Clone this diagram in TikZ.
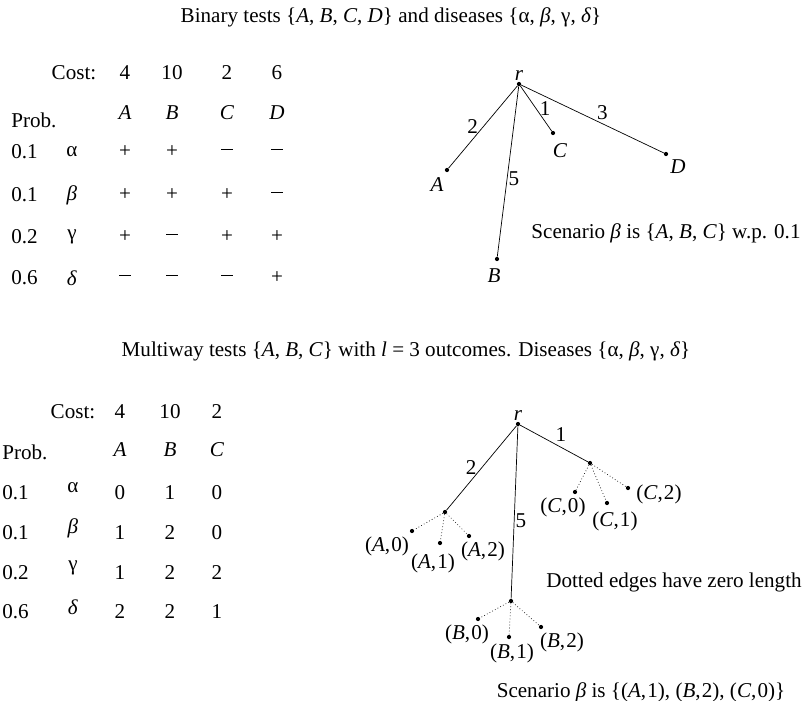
\documentclass[tikz,border=0pt]{standalone}
\usepackage{fontspec}
\setmainfont{Liberation Serif}
\usetikzlibrary{positioning}
\newcommand{\va}[1]{\textit{#1}}
\newcommand{\oc}[2]{(\va{#1},\kern1pt#2)}
\newcommand{\mns}{\rule[0.25em]{0.56em}{0.55pt}}
\begin{document}
\begin{tikzpicture}[
  x=0.03cm, y=-0.03cm,
  every node/.style={font=\fontsize{18}{20}\selectfont, inner sep=1pt},
  dot/.style={circle, fill, inner sep=0pt, minimum size=3.6pt},
  edge/.style={line width=0.6pt},
  zero/.style={dotted, line width=0.6pt},
  leaf/.style={font=\fontsize{18}{20}\selectfont}
]
  \useasboundingbox (0,0) rectangle (805,701);

  % Binary tests
  \node (title1) at (391,17) {Binary tests \{\va{A}, \va{B}, \va{C}, \va{D}\} and diseases \{α, \va{β}, γ, \va{δ}\}};

  \node (cost1) at (74,73) {Cost:};
  \foreach \c/\x [count=\j] in {4/125,10/172,2/227,6/277}
    \node (cost1-\j) at (\x,73) {\c};
  \node[anchor=west] (prob1) at (10,120) {Prob.};
  \foreach \t/\x in {A/125,B/172,C/227,D/277}
    \node (head1-\t) at (\x,113) {\va{\t}};
  \foreach \p/\g/\a/\b/\c/\d/\y [count=\i] in {
      0.1/α/+/+/\mns/\mns/152,
      0.1/\va{β}/+/+/+/\mns/195,
      0.2/γ/+/\mns/+/+/237,
      0.6/\va{δ}/\mns/\mns/\mns/+/278} {
    \node[anchor=west] (pr1-\i) at (10,\y) {\p};
    \node (dis1-\i) at (72,\y) {\g};
    \node (res1-\i-1) at (125,\y) {\a};
    \node (res1-\i-2) at (172,\y) {\b};
    \node (res1-\i-3) at (227,\y) {\c};
    \node (res1-\i-4) at (277,\y) {\d};
  }

  \node[dot] (r1) at (519,84) {};
  \node[dot] (A1) at (447,170) {};
  \node[dot] (B1) at (497,259) {};
  \node[dot] (C1) at (553,133) {};
  \node[dot] (D1) at (666,154) {};
  \node[above=0pt of r1] (r1lab) {\va{r}};
  \node (A1lab) at (437,185) {\va{A}};
  \node (B1lab) at (494,276) {\va{B}};
  \node (C1lab) at (560,151) {\va{C}};
  \node (D1lab) at (678,167) {\va{D}};

  \draw[edge] (r1) -- node[left=3pt] (w1A) {2} (A1);
  \draw[edge] (r1) -- node[pos=0.54, right] (w1B) {5} (B1);
  \draw[edge] (r1) -- node[right=2pt] (w1C) {1} (C1);
  \draw[edge] (r1) -- node[pos=0.57, above=2pt] (w1D) {3} (D1);

  \node (scen1) at (666,233) {Scenario \va{β} is \{\va{A}, \va{B}, \va{C}\} w.p. 0.1};

  % Multiway tests
  \node (title2) at (406,351) {Multiway tests \{\va{A}, \va{B}, \va{C}\} with \va{l} = 3 outcomes. Diseases \{α, \va{β}, γ, \va{δ}\}};

  \node (cost2) at (73,412) {Cost:};
  \foreach \c/\x [count=\j] in {4/120,10/170,2/217}
    \node (cost2-\j) at (\x,412) {\c};
  \node[anchor=west] (prob2) at (1,452) {Prob.};
  \foreach \t/\x in {A/120,B/170,C/217}
    \node (head2-\t) at (\x,450) {\va{\t}};
  \foreach \p/\g/\a/\b/\c/\y [count=\i] in {
      0.1/α/0/1/0/493,
      0.1/\va{β}/1/2/0/533,
      0.2/γ/1/2/2/573,
      0.6/\va{δ}/2/2/1/612} {
    \node[anchor=west] (pr2-\i) at (1,\y) {\p};
    \node (dis2-\i) at (73,\y-5) {\g};
    \node (res2-\i-1) at (120,\y) {\a};
    \node (res2-\i-2) at (170,\y) {\b};
    \node (res2-\i-3) at (217,\y) {\c};
  }

  \node[dot] (r2) at (518,424) {};
  \node[dot] (A2) at (445,512) {};
  \node[dot] (B2) at (511,601) {};
  \node[dot] (C2) at (590,463) {};
  \node[above=0pt of r2] (r2lab) {\va{r}};

  \draw[edge] (r2) -- node[left=3pt] (w2A) {2} (A2);
  \draw[edge] (r2) -- node[pos=0.55, right] (w2B) {5} (B2);
  \draw[edge] (r2) -- node[above right] (w2C) {1} (C2);

  % zero-length outcome edges
  \foreach \t/\k/\x/\y in {A/0/412/531, A/1/440/543, A/2/469/536,
                           B/0/478/619, B/1/509/637, B/2/541/627,
                           C/0/575/492, C/1/607/503, C/2/628/488} {
    \node[dot] (\t2-\k) at (\x,\y) {};
    \draw[zero] (\t2) -- (\t2-\k);
  }
  \node[leaf] (A2-0lab) at (387,546) {\oc{A}{0}};
  \node[leaf] (A2-1lab) at (433,563) {\oc{A}{1}};
  \node[leaf] (A2-2lab) at (483,551) {\oc{A}{2}};
  \node[leaf] (B2-0lab) at (467,634) {\oc{B}{0}};
  \node[leaf] (B2-1lab) at (512,653) {\oc{B}{1}};
  \node[leaf] (B2-2lab) at (562,642) {\oc{B}{2}};
  \node[leaf] (C2-0lab) at (563,507) {\oc{C}{0}};
  \node[leaf] (C2-1lab) at (615,521) {\oc{C}{1}};
  \node[leaf] (C2-2lab) at (659,494) {\oc{C}{2}};

  \node (note2) at (674,582) {Dotted edges have zero length};
  \node (scen2) at (641,692) {Scenario \va{β} is \{(\va{A},\kern1pt1), (\va{B},\kern1pt2), (\va{C},\kern1pt0)\}};
\end{tikzpicture}
\end{document}
